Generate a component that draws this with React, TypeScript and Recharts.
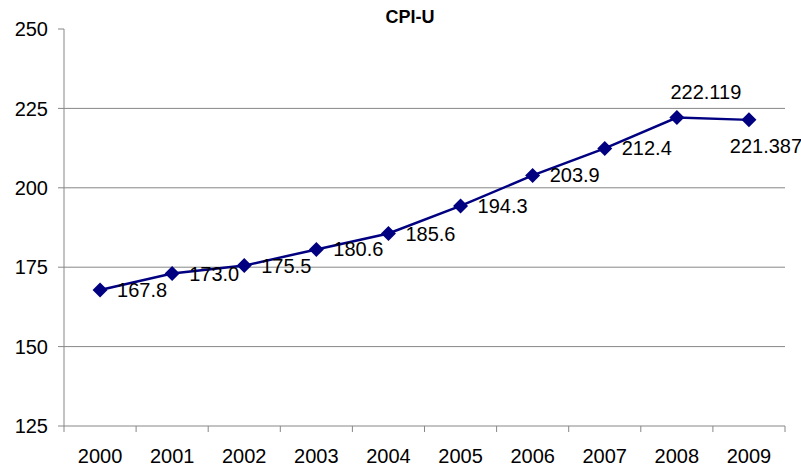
import React from "react";
import {
	LineChart,
	Line,
	XAxis,
	YAxis,
	ReferenceLine,
	LabelList,
} from "recharts";

const years = ["2000", "2001", "2002", "2003", "2004", "2005", "2006", "2007", "2008", "2009"];
const cpi = [167.8, 173.0, 175.5, 180.6, 185.6, 194.3, 203.9, 212.4, 222.119, 221.387];
const cpiLabels = ["167.8", "173.0", "175.5", "180.6", "185.6", "194.3", "203.9", "212.4", "222.119", "221.387"];
const yTicks = [125, 150, 175, 200, 225, 250];
const gridValues = [150, 175, 200, 225];

const data = years.map((year, i) => ({ x: i, year, cpi: cpi[i], label: cpiLabels[i] }));
// tick marks sit on the category boundaries
const xTicks = years.map((_, i) => i - 0.5).concat(years.length - 0.5);

const FONT = "'Liberation Sans', Arial, sans-serif";
const NAVY = "#000080";
const GREY = "#878787";
const HALF_BAND = 721 / years.length / 2;

const YearTick = (props: any) => {
	const { x, y, payload } = props;
	const idx = Math.round(payload.value + 0.5);
	if (idx >= years.length) return <g />;
	return (
		<text x={x + HALF_BAND} y={y} dy="0.71em" textAnchor="middle" fontSize={20} fontFamily={FONT} fill="#000">
			{years[idx]}
		</text>
	);
};

const Diamond = (props: any) => {
	const { cx, cy } = props;
	if (cx == null || cy == null) return <g />;
	const r = 7.5;
	return <polygon points={`${cx},${cy - r} ${cx + r},${cy} ${cx},${cy + r} ${cx - r},${cy}`} fill={NAVY} />;
};

const PointLabel = (props: any) => {
	const { x, y, index, value } = props;
	let tx = x + 17;
	let ty = y + 7;
	let anchor = "start";
	if (index === 8) {
		tx = x + 29;
		ty = y - 19;
		anchor = "middle";
	} else if (index === 9) {
		ty = y + 33;
		anchor = "middle";
	}
	return (
		<text x={tx} y={ty} textAnchor={anchor} fontSize={20} fontFamily={FONT} fill="#000">
			{value}
		</text>
	);
};

const App = () => {
	return (
		<div style={{ position: "absolute", left: 0, top: 0, width: 801, height: 466, background: "#fff" }}>
			<div
				style={{
					position: "absolute",
					left: 0,
					width: 820,
					top: 7,
					textAlign: "center",
					fontFamily: FONT,
					fontWeight: "bold",
					fontSize: 18,
				}}
			>
				CPI-U
			</div>
			<LineChart width={801} height={466} data={data} margin={{ top: 29, right: 16, left: 0, bottom: 0 }}>
				{gridValues.map((v) => (
					<ReferenceLine key={v} y={v} stroke={GREY} strokeWidth={1} />
				))}
				<XAxis
					dataKey="x"
					type="number"
					domain={[-0.5, years.length - 0.5]}
					ticks={xTicks}
					interval={0}
					height={40}
					tickSize={6}
					tickMargin={17}
					stroke={GREY}
					tick={<YearTick />}
				/>
				<YAxis
					domain={[125, 250]}
					ticks={yTicks}
					interval={0}
					width={64}
					tickSize={6}
					tickMargin={10}
					stroke={GREY}
					tick={{ fill: "#000", fontSize: 20, fontFamily: FONT }}
				/>
				<Line
					type="linear"
					dataKey="cpi"
					stroke={NAVY}
					strokeWidth={2.5}
					dot={<Diamond />}
					activeDot={false}
					isAnimationActive={false}
				>
					<LabelList dataKey="label" content={<PointLabel />} />
				</Line>
			</LineChart>
		</div>
	);
};

export default App;
